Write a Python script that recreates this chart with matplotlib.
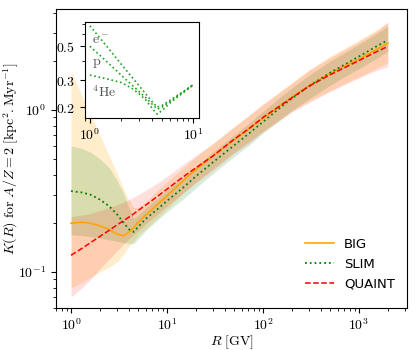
import numpy as np
import matplotlib
matplotlib.use("Agg")
import matplotlib.pyplot as plt
from matplotlib.ticker import FixedLocator, FuncFormatter, NullFormatter

plt.rcParams['mathtext.fontset'] = 'cm'

# rigidity grid (GV)
R = [1, 1.3, 1.6, 2, 2.5, 3, 3.5, 4, 4.5, 5, 6, 8, 10, 15, 20, 30, 50, 70,
     100, 150, 200, 300, 500, 700, 1000, 1500, 2000]

# BIG
big = [0.2, 0.203, 0.2, 0.193, 0.183, 0.172, 0.167, 0.176, 0.188, 0.203, 0.225,
       0.262, 0.295, 0.37, 0.43, 0.52, 0.655, 0.76, 0.89, 1.06, 1.2, 1.41, 1.68,
       1.86, 2.06, 2.35, 2.58]
big_lo = [0.08, 0.086, 0.093, 0.1, 0.107, 0.115, 0.128, 0.143, 0.155, 0.168, 0.185,
          0.215, 0.245, 0.31, 0.36, 0.435, 0.55, 0.635, 0.74, 0.88, 0.99, 1.13,
          1.32, 1.45, 1.6, 1.8, 1.95]
big_hi = [1.74, 1.23, 0.94, 0.70, 0.52, 0.41, 0.33, 0.28, 0.25, 0.25, 0.27, 0.32,
          0.36, 0.445, 0.515, 0.62, 0.785, 0.915, 1.08, 1.3, 1.48, 1.77, 2.15,
          2.4, 2.7, 3.12, 3.45]

# SLIM
slim = [0.316, 0.31, 0.30, 0.28, 0.255, 0.228, 0.203, 0.184, 0.177, 0.19, 0.213,
        0.245, 0.275, 0.335, 0.39, 0.475, 0.605, 0.71, 0.845, 1.03, 1.18, 1.40,
        1.70, 1.90, 2.14, 2.46, 2.7]
slim_lo = [0.17, 0.168, 0.165, 0.162, 0.158, 0.155, 0.152, 0.15, 0.15, 0.16, 0.18,
           0.21, 0.235, 0.285, 0.33, 0.405, 0.515, 0.6, 0.72, 0.87, 0.99, 1.17,
           1.42, 1.6, 1.8, 2.07, 2.3]
slim_hi = [0.6, 0.58, 0.55, 0.50, 0.44, 0.37, 0.31, 0.25, 0.215, 0.225, 0.25,
           0.285, 0.32, 0.39, 0.45, 0.55, 0.7, 0.82, 0.98, 1.2, 1.37, 1.64, 2.0,
           2.25, 2.55, 2.95, 3.3]

# QUAINT
quaint = [0.127, 0.140, 0.152, 0.166, 0.181, 0.195, 0.207, 0.218, 0.229, 0.24,
          0.259, 0.294, 0.325, 0.39, 0.44, 0.52, 0.66, 0.76, 0.9, 1.06, 1.19,
          1.40, 1.65, 1.82, 2.02, 2.28, 2.47]
quaint_lo = [0.07, 0.08, 0.09, 0.105, 0.12, 0.135, 0.148, 0.16, 0.17, 0.18, 0.198,
             0.228, 0.255, 0.31, 0.355, 0.425, 0.54, 0.62, 0.735, 0.86, 0.97,
             1.11, 1.3, 1.43, 1.58, 1.75, 1.85]
quaint_hi = [0.22, 0.225, 0.23, 0.24, 0.25, 0.26, 0.27, 0.28, 0.29, 0.30, 0.32,
             0.355, 0.39, 0.465, 0.525, 0.62, 0.79, 0.92, 1.09, 1.29, 1.46, 1.75,
             2.1, 2.35, 2.65, 3.05, 3.5]

# inset: SLIM for different species
R_in = [1, 1.5, 2, 2.5, 3, 3.5, 4, 4.5, 5, 6, 7, 8, 10]
k_e = [0.68, 0.488, 0.384, 0.32, 0.276, 0.243, 0.218, 0.2, 0.205, 0.222, 0.238, 0.252, 0.28]
k_p = [0.5, 0.39, 0.325, 0.283, 0.253, 0.23, 0.21, 0.194, 0.2, 0.218, 0.235, 0.25, 0.28]
k_he = [0.324, 0.305, 0.29, 0.268, 0.245, 0.222, 0.197, 0.18, 0.19, 0.213, 0.232, 0.248, 0.278]


def pow_fmt(v, pos):
    return r'$10^{%d}$' % round(np.log10(v))


fig = plt.figure(figsize=(4.16, 3.5), dpi=100)
ax = fig.add_axes([0.135, 0.12, 0.843, 0.854])

ax.fill_between(R, big_lo, big_hi, color='orange', alpha=0.2, lw=0)
ax.fill_between(R, slim_lo, slim_hi, color='green', alpha=0.15, lw=0)
ax.fill_between(R, quaint_lo, quaint_hi, color='red', alpha=0.13, lw=0)
ax.plot(R, big, color='orange', lw=1.2, label='BIG')
ax.plot(R, slim, color='green', ls=':', lw=1.3, label='SLIM')
ax.plot(R, quaint, color='red', ls='--', lw=1.1, label='QUAINT')

ax.set_xscale('log')
ax.set_yscale('log')
ax.set_xlim(0.7, 3160)
ax.set_ylim(0.06, 4.2)
ax.xaxis.set_major_formatter(FuncFormatter(pow_fmt))
ax.yaxis.set_major_formatter(FuncFormatter(pow_fmt))
ax.tick_params(labelsize=10)
ax.set_xlabel(r'$R\ [\mathrm{GV}]$', fontsize=10, labelpad=0)
ax.set_ylabel(r'$K(R)\ \mathrm{for}\ A/Z=2\ [\mathrm{kpc}^2.\mathrm{Myr}^{-1}]$',
              fontsize=10)
ax.yaxis.set_label_coords(-0.1, 0.5)
ax.legend(loc='lower right', frameon=False, fontsize=9.5, handlelength=2.2,
          bbox_to_anchor=(1.0, 0.02))

# inset
axi = fig.add_axes([0.204, 0.663, 0.274, 0.274])
axi.plot(R_in, k_e, color='#22a022', ls=':', lw=1.2)
axi.plot(R_in, k_p, color='#22a022', ls=':', lw=1.2)
axi.plot(R_in, k_he, color='#22a022', ls=':', lw=1.2)
axi.set_xscale('log')
axi.set_yscale('log')
axi.set_xlim(0.894, 11.4)
axi.set_ylim(0.17, 0.72)
axi.yaxis.set_major_locator(FixedLocator([0.2, 0.3, 0.5]))
axi.yaxis.set_major_formatter(FuncFormatter(lambda v, p: r'$%.1f$' % v))
axi.yaxis.set_minor_formatter(NullFormatter())
axi.xaxis.set_major_formatter(FuncFormatter(pow_fmt))
axi.tick_params(labelsize=10)
axi.text(1.04, 0.55, r'$\mathrm{e}^-$', fontsize=10, color='#555555', va='center')
axi.text(1.04, 0.39, r'$\mathrm{p}$', fontsize=10, color='#555555', va='center')
axi.text(1.04, 0.25, r'$^4\mathrm{He}$', fontsize=10, color='#555555', va='center')

fig.savefig('out.png', dpi=100)
